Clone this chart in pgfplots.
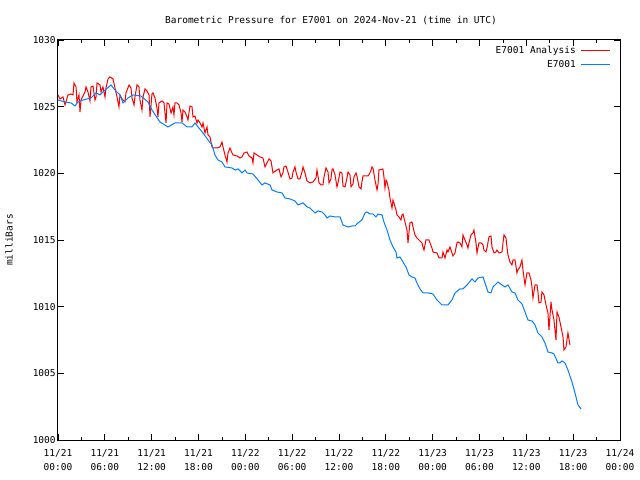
\documentclass[border=0pt]{standalone}
\usepackage{fontspec}
\setmainfont{DejaVu Sans Mono}
\usepackage{pgfplots}
\pgfplotsset{compat=1.18}
\definecolor{gpred}{RGB}{255,0,0}
\definecolor{gpblue}{RGB}{0,128,255}
\begin{document}
\fontsize{9.5bp}{11bp}\selectfont
\begin{tikzpicture}
\useasboundingbox (-58bp,-40bp) rectangle (582bp,440bp);
\begin{axis}[
  at={(0,0)}, anchor=south west,
  scale only axis, width=562bp, height=400bp,
  xmin=0, xmax=72, ymin=1000, ymax=1030,
  xtick={0,6,...,72},
  xticklabels={{11/21\\00:00},{11/21\\06:00},{11/21\\12:00},{11/21\\18:00},{11/22\\00:00},{11/22\\06:00},{11/22\\12:00},{11/22\\18:00},{11/23\\00:00},{11/23\\06:00},{11/23\\12:00},{11/23\\18:00},{11/24\\00:00}},
  xticklabel style={align=center, font=\fontsize{9.5bp}{14bp}\selectfont, yshift=-6bp},
  minor x tick num=1,
  ytick={1000,1005,...,1030},
  /pgf/number format/assume math mode=true,
  /pgf/number format/set thousands separator={},
  yticklabel style={font=\fontsize{9.5bp}{11bp}\selectfont, xshift=1bp},
  tick align=inside,
  major tick length=6bp, minor tick length=3bp,
  tick style={black, line width=0.8bp},
  axis line style={line width=1bp},
  title={Barometric Pressure for E7001 on 2024-Nov-21 (time in UTC)},
  title style={font=\fontsize{9.5bp}{11bp}\selectfont, yshift=6bp, xshift=-8bp},
  ylabel={milliBars},
  ylabel style={at={(axis description cs:-0.087,0.5)}, anchor=center, font=\fontsize{9.5bp}{11bp}\selectfont},
  legend style={draw=none, fill=none, at={(1,1)}, anchor=north east, xshift=-6bp, yshift=-2bp, font=\fontsize{9.5bp}{11bp}\selectfont, row sep=1.5bp},
  legend cell align=right,
  legend plot pos=right,
  legend image code/.code={\path (0bp,0bp); \draw[#1] (3bp,0bp) -- (32bp,0bp);},
]
\addplot[draw=gpred, color=gpred, line width=1bp] table {
0.00 1025.88
0.26 1025.58
0.64 1025.73
0.90 1025.13
1.28 1025.88
1.67 1025.95
1.92 1025.88
2.05 1026.78
2.31 1026.48
2.43 1025.35
2.69 1025.88
2.82 1024.60
2.95 1025.50
3.46 1026.10
3.59 1026.48
3.84 1026.10
4.10 1025.43
4.23 1026.48
4.48 1026.55
4.74 1025.50
4.87 1025.73
5.00 1026.78
5.38 1026.63
5.51 1026.10
5.76 1026.48
6.02 1025.73
6.15 1026.40
6.41 1027.08
6.66 1027.23
7.05 1027.08
7.30 1026.40
7.56 1025.73
7.81 1024.98
7.94 1025.88
8.20 1025.58
8.58 1025.35
8.71 1026.03
9.10 1026.63
9.35 1026.40
9.48 1025.65
9.74 1025.13
9.86 1025.73
10.12 1026.63
10.38 1026.48
10.50 1025.50
10.76 1024.75
10.89 1025.73
11.15 1026.33
11.40 1026.18
11.66 1025.88
11.79 1024.23
12.04 1025.95
12.17 1026.03
12.43 1025.65
12.68 1024.90
12.81 1024.23
12.94 1025.28
13.32 1025.43
13.58 1025.28
13.84 1023.78
13.97 1025.28
14.22 1025.20
14.48 1024.53
14.73 1024.98
14.86 1024.38
14.99 1025.28
15.24 1025.28
15.50 1025.13
15.76 1024.53
15.89 1023.85
16.01 1024.75
16.27 1024.60
16.53 1024.23
16.65 1024.00
16.91 1025.05
17.17 1024.98
17.29 1024.23
17.55 1024.30
17.81 1023.78
17.94 1024.00
18.19 1023.78
18.45 1023.48
18.58 1023.78
18.83 1023.03
19.09 1023.48
19.22 1022.88
19.47 1022.73
19.73 1021.98
19.86 1021.90
20.37 1021.90
20.75 1021.98
21.01 1022.35
21.14 1021.98
21.39 1021.38
21.65 1020.85
21.78 1021.53
22.03 1021.90
22.29 1021.53
22.42 1021.38
22.93 1021.30
23.32 1021.15
23.57 1021.23
23.83 1021.53
24.21 1021.60
24.47 1021.30
24.85 1021.15
24.98 1020.78
25.11 1021.53
25.49 1021.38
25.88 1021.23
26.26 1021.15
26.52 1020.48
26.77 1020.78
27.03 1021.08
27.29 1020.93
27.54 1020.03
27.67 1020.10
28.06 1020.25
28.31 1020.33
28.57 1019.73
28.82 1020.03
28.95 1020.48
29.21 1020.55
29.46 1020.10
29.72 1019.58
29.98 1019.65
30.11 1020.10
30.36 1020.48
30.49 1020.10
30.75 1019.58
31.00 1019.58
31.26 1020.10
31.39 1020.48
31.64 1020.03
31.90 1019.43
32.28 1019.28
32.67 1019.35
33.05 1019.65
33.18 1020.25
33.44 1019.28
33.69 1019.13
33.95 1019.13
34.08 1019.73
34.33 1020.40
34.59 1020.10
34.72 1019.28
34.97 1019.58
35.10 1020.25
35.23 1020.33
35.49 1019.88
35.74 1018.98
35.87 1019.28
36.13 1020.10
36.38 1020.03
36.51 1019.05
36.77 1018.98
37.02 1019.65
37.15 1020.10
37.41 1019.88
37.54 1018.98
37.79 1019.20
37.92 1019.73
38.18 1020.03
38.30 1019.80
38.56 1018.98
38.82 1018.83
38.94 1019.35
39.07 1019.80
39.71 1019.80
39.97 1020.03
40.23 1020.48
40.35 1020.40
40.61 1019.50
40.87 1018.75
40.99 1019.13
41.12 1020.25
41.63 1020.33
41.76 1019.73
41.89 1018.90
42.02 1019.50
42.15 1019.35
42.40 1018.75
42.53 1018.15
42.79 1017.40
42.92 1018.00
43.04 1017.78
43.30 1017.25
43.43 1016.88
43.68 1016.73
43.94 1016.50
44.07 1016.88
44.20 1016.95
44.45 1016.35
44.71 1015.75
44.84 1014.78
45.09 1016.28
45.35 1016.35
45.48 1015.98
45.73 1015.38
45.99 1015.15
46.25 1015.00
46.63 1014.78
46.76 1014.48
46.89 1014.25
47.14 1015.00
47.53 1015.00
47.91 1014.40
48.04 1014.10
48.55 1014.03
48.81 1013.65
49.19 1013.65
49.32 1014.10
49.58 1013.65
49.83 1014.25
49.96 1014.10
50.22 1014.48
50.47 1014.03
50.60 1013.80
50.86 1014.03
51.11 1014.78
51.24 1014.85
51.50 1014.78
51.75 1014.48
51.88 1015.38
52.14 1015.00
52.40 1014.63
52.52 1014.40
52.65 1014.78
52.91 1015.38
53.16 1015.53
53.29 1015.75
53.55 1014.78
53.68 1014.03
53.93 1014.78
54.19 1014.78
54.45 1014.63
54.57 1014.25
54.83 1014.10
54.96 1014.40
55.21 1015.23
55.47 1015.30
55.60 1014.48
55.86 1014.03
56.11 1014.10
56.24 1014.25
56.50 1014.03
56.88 1014.10
57.01 1014.78
57.14 1015.38
57.39 1015.15
57.52 1014.48
57.65 1013.88
57.90 1013.35
58.16 1013.13
58.29 1013.50
58.55 1013.50
58.80 1012.53
58.93 1012.75
59.18 1012.98
59.44 1013.50
59.57 1012.75
59.83 1011.63
60.08 1012.53
60.34 1012.53
60.60 1012.00
60.72 1011.48
60.85 1010.65
61.11 1011.63
61.36 1011.63
61.49 1011.10
61.62 1010.28
61.88 1010.35
62.00 1011.10
62.26 1010.88
62.52 1010.13
62.77 1009.53
62.90 1008.25
63.16 1010.35
63.29 1009.75
63.54 1009.00
63.80 1007.50
63.93 1009.60
64.18 1009.23
64.44 1008.48
64.70 1007.73
64.82 1006.75
65.08 1006.98
65.33 1008.03
65.59 1007.13
};
\addlegendentry{E7001 Analysis}
\addplot[draw=gpblue, color=gpblue, line width=1bp] table {
0.00 1025.50
0.90 1025.35
1.67 1025.28
2.18 1025.05
2.56 1025.35
3.20 1025.50
4.23 1025.65
4.87 1026.03
5.38 1025.88
5.76 1026.10
6.79 1026.63
7.30 1026.25
7.94 1025.88
8.33 1025.28
8.97 1025.65
9.61 1025.88
10.63 1025.80
11.53 1025.35
12.04 1024.75
13.07 1023.85
14.09 1023.48
14.99 1023.78
15.89 1023.78
16.53 1023.48
17.17 1023.48
17.55 1023.78
17.94 1023.48
18.58 1023.03
19.22 1022.50
19.73 1022.13
20.11 1021.38
20.50 1021.00
21.01 1020.85
21.39 1020.48
22.29 1020.40
22.68 1020.25
23.06 1020.33
23.57 1020.03
23.96 1020.25
24.21 1020.03
24.98 1019.95
25.62 1019.50
26.13 1019.13
26.52 1019.28
27.16 1019.13
27.42 1018.75
28.06 1018.60
28.70 1018.53
29.08 1018.15
29.72 1018.08
30.36 1017.93
30.75 1017.63
31.39 1017.78
31.90 1017.48
32.28 1017.40
32.92 1017.03
33.31 1017.18
33.82 1017.10
34.20 1016.88
34.46 1016.65
34.85 1016.80
35.49 1016.73
36.13 1016.73
36.51 1016.13
37.15 1015.98
37.66 1016.05
38.05 1016.05
38.43 1016.28
38.94 1016.50
39.33 1017.03
39.59 1017.10
39.97 1016.95
40.35 1016.95
40.74 1016.73
40.99 1016.95
41.51 1016.88
41.76 1016.35
42.15 1015.75
42.53 1015.00
42.92 1014.48
43.30 1014.10
43.43 1013.65
43.81 1013.73
44.20 1013.35
44.58 1012.98
44.97 1012.38
45.35 1012.23
45.73 1012.15
45.99 1011.78
46.38 1011.33
46.76 1011.03
47.40 1011.03
48.04 1010.95
48.55 1010.50
49.19 1010.13
49.96 1010.13
50.47 1010.50
50.86 1011.03
51.50 1011.33
51.88 1011.33
52.40 1011.63
53.04 1012.08
53.42 1011.85
53.81 1012.15
54.45 1012.23
54.70 1011.78
55.09 1011.10
55.47 1011.03
55.73 1011.48
56.37 1011.85
56.88 1011.63
57.26 1011.48
57.65 1011.63
58.16 1011.10
58.55 1011.03
58.93 1010.50
59.44 1010.20
59.83 1009.60
60.21 1009.00
60.72 1008.93
61.11 1008.63
61.49 1008.03
62.00 1007.73
62.39 1007.28
62.77 1006.60
63.29 1006.53
63.54 1006.45
64.05 1005.78
64.31 1005.78
64.57 1005.93
64.95 1005.78
65.33 1005.25
65.85 1004.35
66.23 1003.53
66.62 1002.63
67.00 1002.33
};
\addlegendentry{E7001}
\end{axis}
\end{tikzpicture}
\end{document}
